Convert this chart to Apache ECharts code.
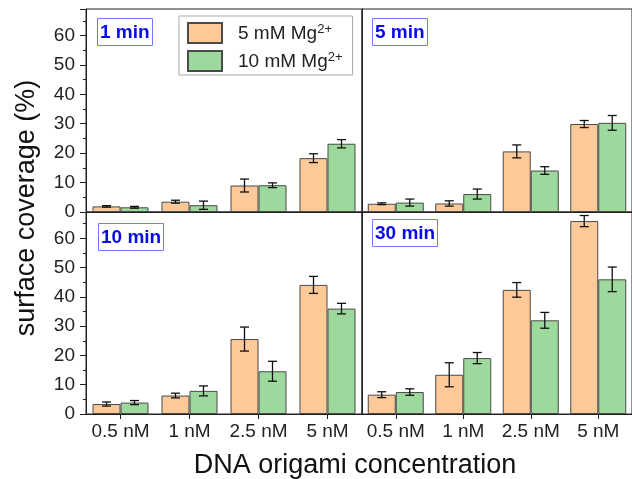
<!DOCTYPE html>
<html>
<head>
<meta charset="utf-8">
<script src="https://cdn.jsdelivr.net/npm/echarts@6/dist/echarts.min.js"></script>
<style>
html,body{margin:0;padding:0;background:#fff;}
#chart{width:632px;height:479px;}
</style>
</head>
<body>
<div id="chart"></div>
<script>
// ---- data ----
const categories = ['0.5 nM', '1 nM', '2.5 nM', '5 nM'];
const panelNames = ['1 min', '5 min', '10 min', '30 min'];
const seriesNames = ['5 mM', '10 mM'];

const mg5_1min = [1.9, 3.5, 9.0, 18.3];
const mg5_1min_err = [0.25, 0.5, 2.2, 1.5];
const mg10_1min = [1.6, 2.3, 9.1, 23.2];
const mg10_1min_err = [0.3, 1.4, 0.8, 1.4];

const mg5_5min = [2.8, 2.9, 20.6, 29.9];
const mg5_5min_err = [0.3, 0.9, 2.2, 1.2];
const mg10_5min = [3.2, 6.1, 14.1, 30.3];
const mg10_5min_err = [1.2, 1.7, 1.3, 2.5];

const mg5_10min = [3.4, 6.3, 25.6, 44.1];
const mg5_10min_err = [0.7, 0.8, 4.1, 2.9];
const mg10_10min = [3.9, 7.9, 14.6, 36.0];
const mg10_10min_err = [0.7, 1.7, 3.4, 1.8];

const mg5_30min = [6.6, 13.4, 42.4, 65.9];
const mg5_30min_err = [1.0, 4.1, 2.5, 1.9];
const mg10_30min = [7.5, 19.1, 32.0, 46.0];
const mg10_30min_err = [1.1, 1.9, 2.7, 4.2];

const yMin = 0, yMax = 69, yInterval = 10;

// ---- build ----
const mg5Vals = [mg5_1min, mg5_5min, mg5_10min, mg5_30min];
const mg5Errs = [mg5_1min_err, mg5_5min_err, mg5_10min_err, mg5_30min_err];
const mg10Vals = [mg10_1min, mg10_5min, mg10_10min, mg10_30min];
const mg10Errs = [mg10_1min_err, mg10_5min_err, mg10_10min_err, mg10_30min_err];

const FONT = '"Liberation Sans", Arial, Helvetica, sans-serif';
const LINE = '#222';
const ORANGE = '#FDC998';
const GREEN = '#9DD99C';
const BAR_W = 28;

const grids = [
  {left: 86, top: 9, width: 276, height: 203},
  {left: 362, top: 9, width: 276, height: 203},
  {left: 86, top: 212, width: 276, height: 202},
  {left: 362, top: 212, width: 276, height: 202}
].map(g => Object.assign(g, {show: true, borderColor: LINE, borderWidth: 1, backgroundColor: 'transparent'}));

const xAxes = [], yAxes = [], series = [];
for (let p = 0; p < 4; p++) {
  const bottom = p >= 2, left = (p % 2) === 0;
  xAxes.push({
    type: 'category', gridIndex: p, data: categories,
    axisLine: {show: true, lineStyle: {color: LINE, width: 1}},
    axisTick: {show: bottom, alignWithLabel: true, length: 5, lineStyle: {color: LINE}},
    axisLabel: {show: bottom, interval: 0, fontSize: 19, color: '#222', margin: 8, fontFamily: FONT},
    splitLine: {show: false}
  });
  yAxes.push({
    type: 'value', gridIndex: p, min: yMin, max: yMax, interval: yInterval,
    axisLine: {show: true, lineStyle: {color: LINE, width: 1}},
    axisTick: {show: left, length: 6, lineStyle: {color: LINE}},
    minorTick: {show: left, splitNumber: 2, length: 3, lineStyle: {color: LINE}},
    axisLabel: {show: left, showMaxLabel: false, fontSize: 19, color: '#222', margin: 11, fontFamily: FONT},
    splitLine: {show: false}
  });
  const sets = [[mg5Vals[p], mg5Errs[p], ORANGE, -BAR_W / 2, seriesNames[0]],
                [mg10Vals[p], mg10Errs[p], GREEN, BAR_W / 2, seriesNames[1]]];
  sets.forEach(([vals, errs, color, off, name]) => {
    series.push({
      type: 'bar', name: name, xAxisIndex: p, yAxisIndex: p, data: vals,
      barWidth: BAR_W, barGap: '0%',
      itemStyle: {color: color, borderColor: '#4a4a4a', borderWidth: 1},
      silent: true
    });
  });
  sets.forEach(([vals, errs, color, off, name]) => {
    series.push({
      type: 'custom', name: name + ' err', xAxisIndex: p, yAxisIndex: p, z: 10, silent: true,
      data: vals.map((v, i) => [i, v - errs[i], v + errs[i]]),
      encode: {x: 0, y: [1, 2]},
      renderItem: function (params, api) {
        const i = api.value(0);
        const lo = api.coord([i, api.value(1)]);
        const hi = api.coord([i, api.value(2)]);
        const x = lo[0] + off, hw = 4.5;
        const st = {stroke: '#111', lineWidth: 1.3};
        return {type: 'group', children: [
          {type: 'line', shape: {x1: x, y1: lo[1], x2: x, y2: hi[1]}, style: st},
          {type: 'line', shape: {x1: x - hw, y1: lo[1], x2: x + hw, y2: lo[1]}, style: st},
          {type: 'line', shape: {x1: x - hw, y1: hi[1], x2: x + hw, y2: hi[1]}, style: st}
        ]};
      }
    });
  });
}

const labelPos = [[97, 18], [372, 18], [98, 223], [372, 219]];
const titles = panelNames.map((t, i) => ({
  text: t, left: labelPos[i][0], top: labelPos[i][1],
  padding: [5, 3, 4, 3],
  borderColor: '#7777ff', borderWidth: 1,
  textStyle: {color: '#0a0aee', fontWeight: 'bold', fontSize: 19, fontFamily: FONT}
}));

const supText = {'5 mM': '5 mM Mg', '10 mM': '10 mM Mg'};

const option = {
  animation: false,
  backgroundColor: '#fff',
  title: titles,
  grid: grids,
  xAxis: xAxes,
  yAxis: yAxes,
  legend: {
    data: seriesNames, orient: 'vertical', left: 179, top: 16,
    itemWidth: 34, itemHeight: 20, itemGap: 6,
    padding: [6, 10, 3, 8],
    borderColor: '#aaa', borderWidth: 1, backgroundColor: '#fff',
    icon: 'rect',
    formatter: n => '{a|' + supText[n] + '}{s|2+}',
    textStyle: {
      fontFamily: FONT, color: '#222',
      rich: {
        a: {fontSize: 19, padding: [0, 0, 0, 11], fontFamily: FONT, color: '#222', verticalAlign: 'bottom'},
        s: {fontSize: 13, fontFamily: FONT, color: '#222', verticalAlign: 'top', padding: [0, 0, 7, 0]}
      }
    }
  },
  graphic: [
    {type: 'text', x: 27, y: 208, rotation: Math.PI / 2, style: {
      text: 'surface coverage (%)', font: '27px ' + FONT, fill: '#111',
      align: 'center', verticalAlign: 'middle'}},
    {type: 'text', x: 355, y: 466, style: {
      text: 'DNA origami concentration', font: '27px ' + FONT, fill: '#111',
      align: 'center', verticalAlign: 'middle'}}
  ],
  series: series
};

const chart = echarts.init(document.getElementById('chart'), null, {renderer: 'canvas'});
chart.setOption(option);
</script>
</body>
</html>
